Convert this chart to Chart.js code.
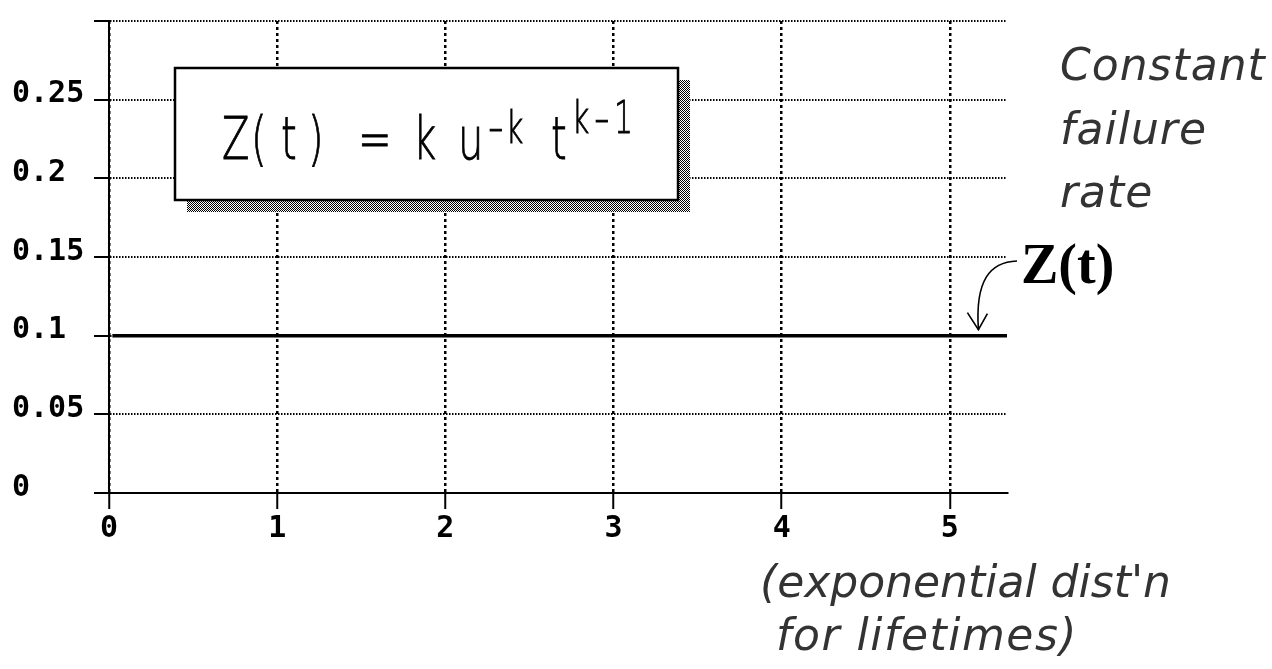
<!DOCTYPE html>
<html>
<head>
<meta charset="utf-8">
<script src="https://cdn.jsdelivr.net/npm/chart.js@4.4.1/dist/chart.umd.min.js"></script>
<style>
  html, body { margin: 0; padding: 0; background: #fff; }
  #c { display: block; }
</style>
</head>
<body>
<canvas id="c" width="1272" height="669"></canvas>
<script>
// lifetime t (x) and hazard rate Z(t) (y) -- constant failure rate
var tValues = [0.02, 5.34];
var zValues = [0.1, 0.1];
var xTicks = [0, 1, 2, 3, 4, 5];
var yTicks = [0, 0.05, 0.1, 0.15, 0.2, 0.25, 0.3];
var yLabelHidden = [0.3];

var tickFont = { family: '"DejaVu Sans Mono", monospace', size: 30, weight: 'bold' };

function onTickList(list, v) {
  return list.some(function(x){ return Math.abs(x - v) < 1e-9; });
}

// one narrow glyph of the formula
function glyph(ctx, ch, x, base, size, sx) {
  ctx.save();
  ctx.translate(x, base);
  ctx.scale(sx, 1);
  ctx.font = '200 ' + size + 'px "DejaVu Sans"';
  ctx.lineWidth = 0.9;
  ctx.strokeStyle = '#000';
  ctx.fillText(ch, 0, 0);
  ctx.strokeText(ch, 0, 0);
  ctx.restore();
}

// overlays: formula box, Z(t) pointer, side notes
var notes = {
  id: 'notes',
  afterDraw: function(chart) {
    var ctx = chart.ctx;
    var xs = chart.scales.x, ys = chart.scales.y;
    ctx.save();

    // stipple pattern for the box shadow
    var pc = document.createElement('canvas');
    pc.width = 2; pc.height = 2;
    var p = pc.getContext('2d');
    p.fillStyle = '#fff'; p.fillRect(0, 0, 2, 2);
    p.fillStyle = '#000'; p.fillRect(0, 0, 1, 1); p.fillRect(1, 1, 1, 1);
    var pat = ctx.createPattern(pc, 'repeat');

    var bx = 175, by = 68, bw = 503, bh = 132, off = 12;
    ctx.fillStyle = pat;
    ctx.fillRect(bx + off, by + off, bw, bh);
    ctx.fillStyle = '#fff';
    ctx.fillRect(bx, by, bw, bh);
    ctx.strokeStyle = '#000';
    ctx.lineWidth = 2.5;
    ctx.strokeRect(bx, by, bw, bh);

    // formula  Z( t ) = k u^-k t^k-1
    ctx.fillStyle = '#000';
    ctx.textBaseline = 'alphabetic';
    ctx.textAlign = 'left';
    var B = 159, S = 0.68;
    glyph(ctx, 'Z', 222, B, 59, S);
    glyph(ctx, '(', 251, B, 59, S);
    glyph(ctx, 't', 281, B, 59, S);
    glyph(ctx, ')', 308, B, 59, S);
    glyph(ctx, '=', 358, B, 59, S);
    glyph(ctx, 'k', 413, B, 59, S);
    glyph(ctx, 'u', 458, B, 59, S);
    glyph(ctx, '-', 488, 142, 44, S + 0.3);
    glyph(ctx, 'k', 506, 143, 44, S);
    glyph(ctx, 't', 551, B, 59, S);
    glyph(ctx, 'k', 572, 133, 44, S);
    glyph(ctx, '-', 594, 133, 44, S + 0.3);
    glyph(ctx, '1', 614, 133, 44, S);

    // Z(t) label with curved arrow to the line
    ctx.font = 'bold 56px "Liberation Serif", serif';
    ctx.fillText('Z(t)', 1021, 283);
    var tipX = xs.getPixelForValue(5.17), tipY = ys.getPixelForValue(0.1) - 6;
    ctx.lineWidth = 1.6;
    ctx.beginPath();
    ctx.moveTo(1017, 261);
    ctx.bezierCurveTo(990, 262, 975, 280, tipX, tipY);
    ctx.stroke();
    ctx.beginPath();
    ctx.moveTo(tipX - 11, tipY - 17);
    ctx.lineTo(tipX, tipY);
    ctx.lineTo(tipX + 9, tipY - 16);
    ctx.stroke();

    // side notes
    ctx.fillStyle = '#333';
    ctx.font = 'italic 200 44px "DejaVu Sans"';
    ctx.letterSpacing = '1px';
    ctx.fillText('Constant', 1060, 80);
    ctx.fillText('failure', 1060, 144);
    ctx.fillText('rate', 1060, 207);
    ctx.letterSpacing = '0px';
    ctx.fillText("(exponential dist'n", 760, 597);
    ctx.letterSpacing = '1.5px';
    ctx.fillText('for lifetimes)', 776, 650);

    ctx.restore();
  }
};

new Chart(document.getElementById('c').getContext('2d'), {
  type: 'line',
  data: {
    datasets: [{
      data: tValues.map(function(t, i){ return { x: t, y: zValues[i] }; }),
      borderColor: '#000',
      borderWidth: 3.5,
      pointRadius: 0,
      fill: false,
      tension: 0
    }]
  },
  options: {
    responsive: false,
    animation: false,
    devicePixelRatio: 1,
    layout: { padding: { left: 12, right: 265, top: 13, bottom: 0 } },
    plugins: { legend: { display: false }, tooltip: { enabled: false } },
    scales: {
      x: {
        type: 'linear',
        min: 0,
        max: 5.34,
        afterBuildTicks: function(s){
          s.ticks = xTicks.map(function(v){ return { value: v }; });
        },
        afterFit: function(s){ s.height = 176; },
        border: { color: '#000', width: 2, dash: [3, 3] },
        grid: {
          color: '#000', lineWidth: 2.5,
          tickLength: 16, tickBorderDash: [], tickWidth: 2, tickColor: '#000'
        },
        ticks: {
          maxRotation: 0, padding: 2, color: '#000', font: tickFont,
          callback: function(v){ return String(v); }
        }
      },
      y: {
        min: 0,
        max: 0.3,
        afterBuildTicks: function(s){
          s.ticks = yTicks.map(function(v){ return { value: v }; });
        },
        afterFit: function(s){ s.width = 97; },
        border: { color: '#000', width: 2, dash: [1.5, 1.5] },
        grid: {
          color: '#000', lineWidth: 2,
          tickLength: 15, tickBorderDash: [], tickWidth: 2, tickColor: '#000'
        },
        ticks: {
          crossAlign: 'far', color: '#000', font: tickFont, labelOffset: -5,
          callback: function(v){
            if (onTickList(yLabelHidden, v)) return '';
            return String(+v.toFixed(2));
          }
        }
      }
    }
  },
  plugins: [notes]
});
</script>
</body>
</html>
